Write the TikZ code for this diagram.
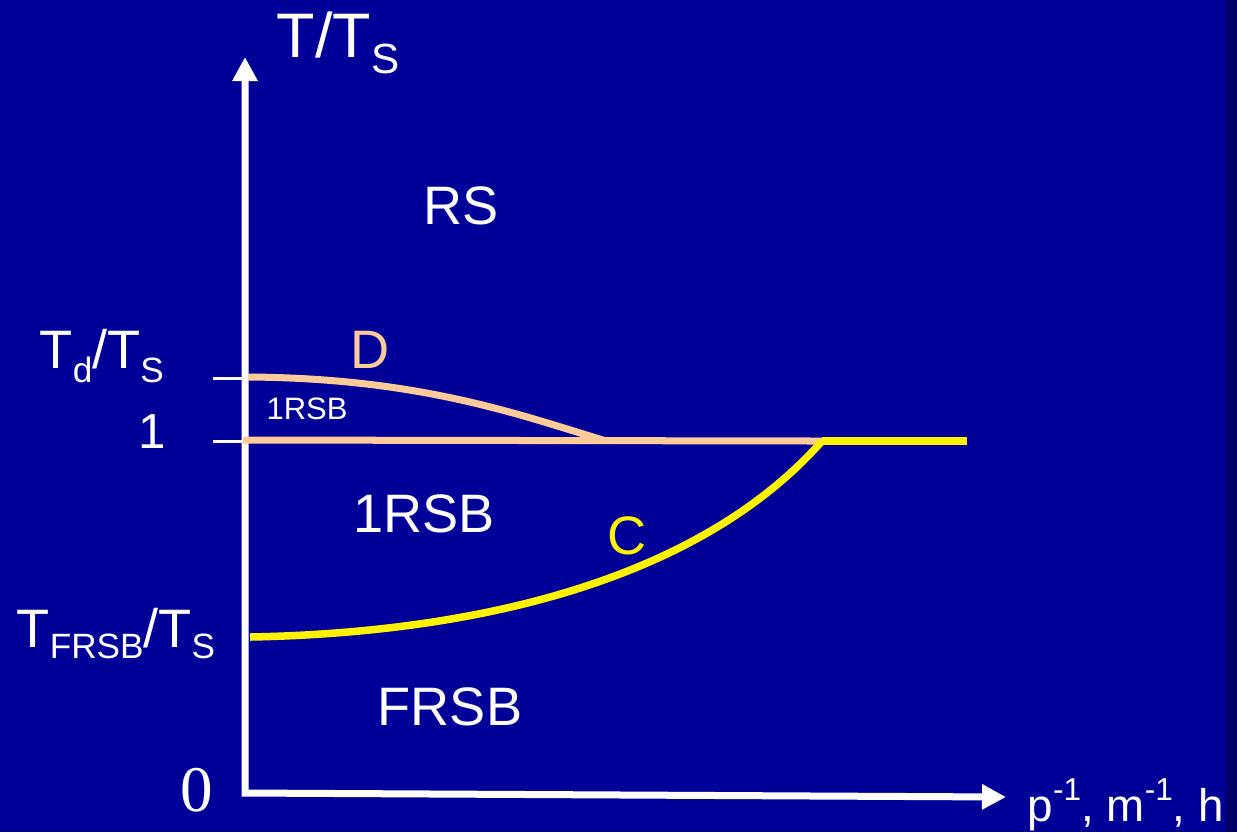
\documentclass[tikz,border=0pt]{standalone}
\usepackage{fontspec}
\setmainfont{Liberation Sans}
\newfontfamily\zerofont{Liberation Serif}
\usetikzlibrary{arrows.meta}
\definecolor{slidebg}{RGB}{0,0,153}
\definecolor{slideedge}{RGB}{0,0,102}
\definecolor{peach}{RGB}{255,204,153}
\newcommand{\fs}[1]{\fontsize{#1}{#1}\selectfont}
\newcommand{\lowsub}[3]{\raisebox{-#1}{\fs{#2}#3}}
\newcommand{\highsup}[3]{\raisebox{#1}{\fs{#2}#3}}
\tikzset{
  lbl/.style={text=white, inner sep=0pt, anchor=base},
  axisline/.style={white, line width=0.07cm, line join=miter},
  tickline/.style={white, line width=0.03cm},
  dline/.style={peach, line width=0.07cm},
  cline/.style={yellow, line width=0.075cm}
}
\begin{document}
\begin{tikzpicture}[x=0.01cm, y=-0.01cm]
\fill[slidebg] (0,0) rectangle (1237,832);
\fill[slideedge] (1226,0) rectangle (1237,832);
\useasboundingbox (0,0) rectangle (1237,832);
% axes
\coordinate (yend) at (245,57);
\coordinate (origin) at (245,793);
\coordinate (xend) at (1006,797);
\draw[axisline, {Triangle[length=0.24cm,width=0.24cm]}-{Triangle[length=0.24cm,width=0.24cm]}] (yend) -- (origin) -- (xend);
\foreach \y/\nm in {378/td, 441/one}{
  \coordinate (\nm tickl) at (213,\y);
  \coordinate (\nm tickr) at (245,\y);
  \draw[tickline] (\nm tickl) -- (\nm tickr);
}
% transition lines: D (peach) and C (yellow)
\coordinate (dstart) at (248,377);
\coordinate (dend) at (603,440);
\coordinate (onestart) at (243,440);
\coordinate (cstart) at (250,637);
\coordinate (cpoint) at (822,441);
\coordinate (cend) at (967,441);
\draw[dline] (dstart) .. controls (420,378) and (520,415) .. (dend);
\draw[dline] (onestart) -- (cpoint);
\draw[cline] (cstart) .. controls (510,632) and (712,566) .. (cpoint);
\draw[cline] (cpoint) -- (cend);
% axis labels
\node[lbl, anchor=base west] (ylabel) at (276,57) {\fs{17.9}T/T\lowsub{0.16cm}{12}{S}};
\node[lbl, anchor=base west] (xlabel) at (1027,821) {\fs{13}p\highsup{0.21cm}{9}{-1}, m\highsup{0.21cm}{9}{-1}, h};
\node[lbl, anchor=base west] (tdlabel) at (39,368) {\fs{15.4}T\lowsub{0.14cm}{10}{d}/T\lowsub{0.14cm}{10}{S}};
\node[lbl] (onelabel) at (152,448) {\fs{14}1};
\node[lbl, anchor=base west] (tfrsblabel) at (16,647) {\fs{15.4}T\lowsub{0.11cm}{10}{FRSB}/T\lowsub{0.11cm}{10}{S}};
\node[lbl] (zerolabel) at (197,811) {\zerofont\fs{18.5}0};
% phases
\node[lbl] (rs) at (461,224) {\fs{15.4}RS};
\node[lbl, text=peach] (dlabel) at (370,368) {\fs{15.4}D};
\node[lbl] (smallrsb) at (307,419) {\fs{8.8}1RSB};
\node[lbl] (onersb) at (424,532) {\fs{15.4}1RSB};
\node[lbl, text=yellow] (clabel) at (627,554) {\fs{15.4}C};
\node[lbl] (frsb) at (450,725) {\fs{15.4}FRSB};
\end{tikzpicture}
\end{document}
